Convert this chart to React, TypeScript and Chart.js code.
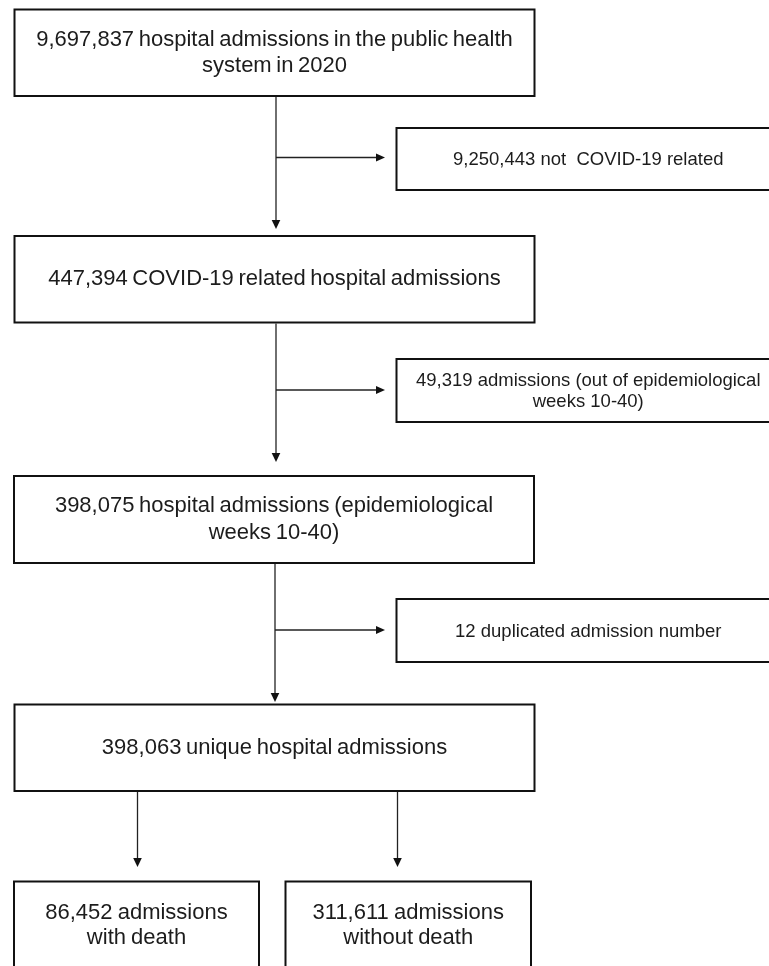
import React, { useEffect, useRef } from "react";
import { Chart, registerables } from "chart.js";

Chart.register(...registerables);

// ---------- data ----------
const stepCounts = [9697837, 447394, 398075, 398063];
const stepLabels = [
  ["hospital admissions in the public health", "system in 2020"],
  ["COVID-19 related hospital admissions"],
  ["hospital admissions (epidemiological", "weeks 10-40)"],
  ["unique hospital admissions"],
];
const exclusionCounts = [9250443, 49319, 12];
const exclusionLabels = [
  ["not  COVID-19 related"],
  ["admissions (out of epidemiological", "weeks 10-40)"],
  ["duplicated admission number"],
];
const outcomeCounts = [86452, 311611];
const outcomeLabels = [
  ["admissions", "with death"],
  ["admissions", "without death"],
];

// ---------- layout (canvas units) ----------
const W = 769;
const H = 966;
const mainBoxes = [
  { x0: 14.5, x1: 534.5, y0: 9.5, y1: 96 },
  { x0: 14.5, x1: 534.5, y0: 236, y1: 322.5 },
  { x0: 14, x1: 534, y0: 476, y1: 563 },
  { x0: 14.5, x1: 534.5, y0: 704.5, y1: 791 },
];
const mainStemX = [276, 276, 275];
const mainArrowTip = [229, 462, 702];
const sideBoxes = [
  { x0: 396.5, x1: 780, y0: 128, y1: 190, arrowY: 157.5 },
  { x0: 396.5, x1: 780, y0: 359, y1: 422, arrowY: 390 },
  { x0: 396.5, x1: 780, y0: 599, y1: 662, arrowY: 630 },
];
const sideArrowTipX = 385;
const outcomeBoxes = [
  { x0: 14, x1: 259, y0: 881.5, y1: 980, stemX: 137.5 },
  { x0: 285.5, x1: 531, y0: 881.5, y1: 980, stemX: 397.5 },
];
const outcomeArrowTip = 867;

const fmt = (n: number) => n.toLocaleString("en-US");

const FONT_MAIN = '22px "Liberation Sans", Arial, "DejaVu Sans", sans-serif';
const FONT_SIDE = '18.5px "Liberation Sans", Arial, "DejaVu Sans", sans-serif';

function buildLines(count: number, labels: string[]) {
  const lines = labels.slice();
  lines[0] = fmt(count) + " " + lines[0];
  return lines;
}

const flowPlugin = {
  id: "flowPlugin",
  afterDraw(chart: any) {
    const ctx = chart.ctx as any;
    const xs = chart.scales.x;
    const ys = chart.scales.y;
    const px = (v: number) => xs.getPixelForValue(v);
    const py = (v: number) => ys.getPixelForValue(v);

    ctx.save();
    ctx.fillStyle = "#ffffff";
    ctx.fillRect(0, 0, chart.width, chart.height);

    const drawBox = (b: any) => {
      ctx.strokeStyle = "#111111";
      ctx.lineWidth = 2;
      ctx.strokeRect(px(b.x0), py(b.y0), px(b.x1) - px(b.x0), py(b.y1) - py(b.y0));
    };
    const drawText = (lines: string[], cx: number, cy: number, font: string, lh: number, ws: string) => {
      ctx.font = font;
      if ("wordSpacing" in ctx) ctx.wordSpacing = ws;
      ctx.fillStyle = "#1c1c1c";
      ctx.textAlign = "center";
      ctx.textBaseline = "middle";
      const n = lines.length;
      lines.forEach((t, i) => {
        ctx.fillText(t, px(cx), py(cy + (i - (n - 1) / 2) * lh));
      });
      if ("wordSpacing" in ctx) ctx.wordSpacing = "0px";
    };
    const line = (x0: number, y0: number, x1: number, y1: number) => {
      ctx.strokeStyle = "#222222";
      ctx.lineWidth = 1.3;
      ctx.beginPath();
      ctx.moveTo(px(x0), py(y0));
      ctx.lineTo(px(x1), py(y1));
      ctx.stroke();
    };
    const headDown = (x: number, tipY: number) => {
      ctx.fillStyle = "#111111";
      ctx.beginPath();
      ctx.moveTo(px(x), py(tipY));
      ctx.lineTo(px(x - 4.3), py(tipY - 9));
      ctx.lineTo(px(x + 4.3), py(tipY - 9));
      ctx.closePath();
      ctx.fill();
    };
    const headRight = (tipX: number, y: number) => {
      ctx.fillStyle = "#111111";
      ctx.beginPath();
      ctx.moveTo(px(tipX), py(y));
      ctx.lineTo(px(tipX - 9), py(y - 3.9));
      ctx.lineTo(px(tipX - 9), py(y + 3.9));
      ctx.closePath();
      ctx.fill();
    };

    // main boxes
    mainBoxes.forEach((b, i) => {
      drawBox(b);
      drawText(buildLines(stepCounts[i], stepLabels[i]), (b.x0 + b.x1) / 2, (b.y0 + b.y1) / 2, FONT_MAIN, 26.5, "-1.5px");
    });
    // main stems with arrows
    mainStemX.forEach((x, i) => {
      const top = mainBoxes[i].y1 + 1;
      line(x, top, x, mainArrowTip[i] - 6);
      headDown(x, mainArrowTip[i]);
    });
    // side boxes
    sideBoxes.forEach((s, i) => {
      drawBox(s);
      drawText(buildLines(exclusionCounts[i], exclusionLabels[i]), (s.x0 + s.x1) / 2, (s.y0 + s.y1) / 2 + 1, FONT_SIDE, 20.5, "0px");
      line(mainStemX[i], s.arrowY, sideArrowTipX - 6, s.arrowY);
      headRight(sideArrowTipX, s.arrowY);
    });
    // outcome boxes
    outcomeBoxes.forEach((b, i) => {
      drawBox(b);
      drawText(buildLines(outcomeCounts[i], outcomeLabels[i]), (b.x0 + b.x1) / 2, 925.5, FONT_MAIN, 25.5, "-1px");
      line(b.stemX, mainBoxes[3].y1 + 1, b.stemX, outcomeArrowTip - 6);
      headDown(b.stemX, outcomeArrowTip);
    });
    ctx.restore();
  },
};

export default function App() {
  const ref = useRef<HTMLCanvasElement | null>(null);
  useEffect(() => {
    document.body.style.margin = "0";
    const canvas = ref.current;
    if (!canvas) return;
    const nodes = [
      ...mainBoxes.map((b) => ({ x: (b.x0 + b.x1) / 2, y: (b.y0 + b.y1) / 2 })),
      ...sideBoxes.map((b) => ({ x: (b.x0 + b.x1) / 2, y: (b.y0 + b.y1) / 2 })),
    ];
    const chart = new Chart(canvas, {
      type: "scatter",
      data: {
        datasets: [
          { data: nodes, pointRadius: 0, pointHoverRadius: 0, backgroundColor: "transparent", borderColor: "transparent" },
        ],
      },
      options: {
        animation: false,
        responsive: false,
        devicePixelRatio: 1,
        events: [],
        layout: { padding: 0 },
        plugins: { legend: { display: false }, tooltip: { enabled: false }, title: { display: false } },
        scales: {
          x: { type: "linear", min: 0, max: W, display: false },
          y: { type: "linear", min: 0, max: H, reverse: true, display: false },
        },
      },
      plugins: [flowPlugin],
    });
    return () => chart.destroy();
  }, []);
  return (
    <div style={{ width: W, height: H, background: "#fff" }}>
      <canvas ref={ref} width={W} height={H} style={{ display: "block", width: W, height: H }} />
    </div>
  );
}
